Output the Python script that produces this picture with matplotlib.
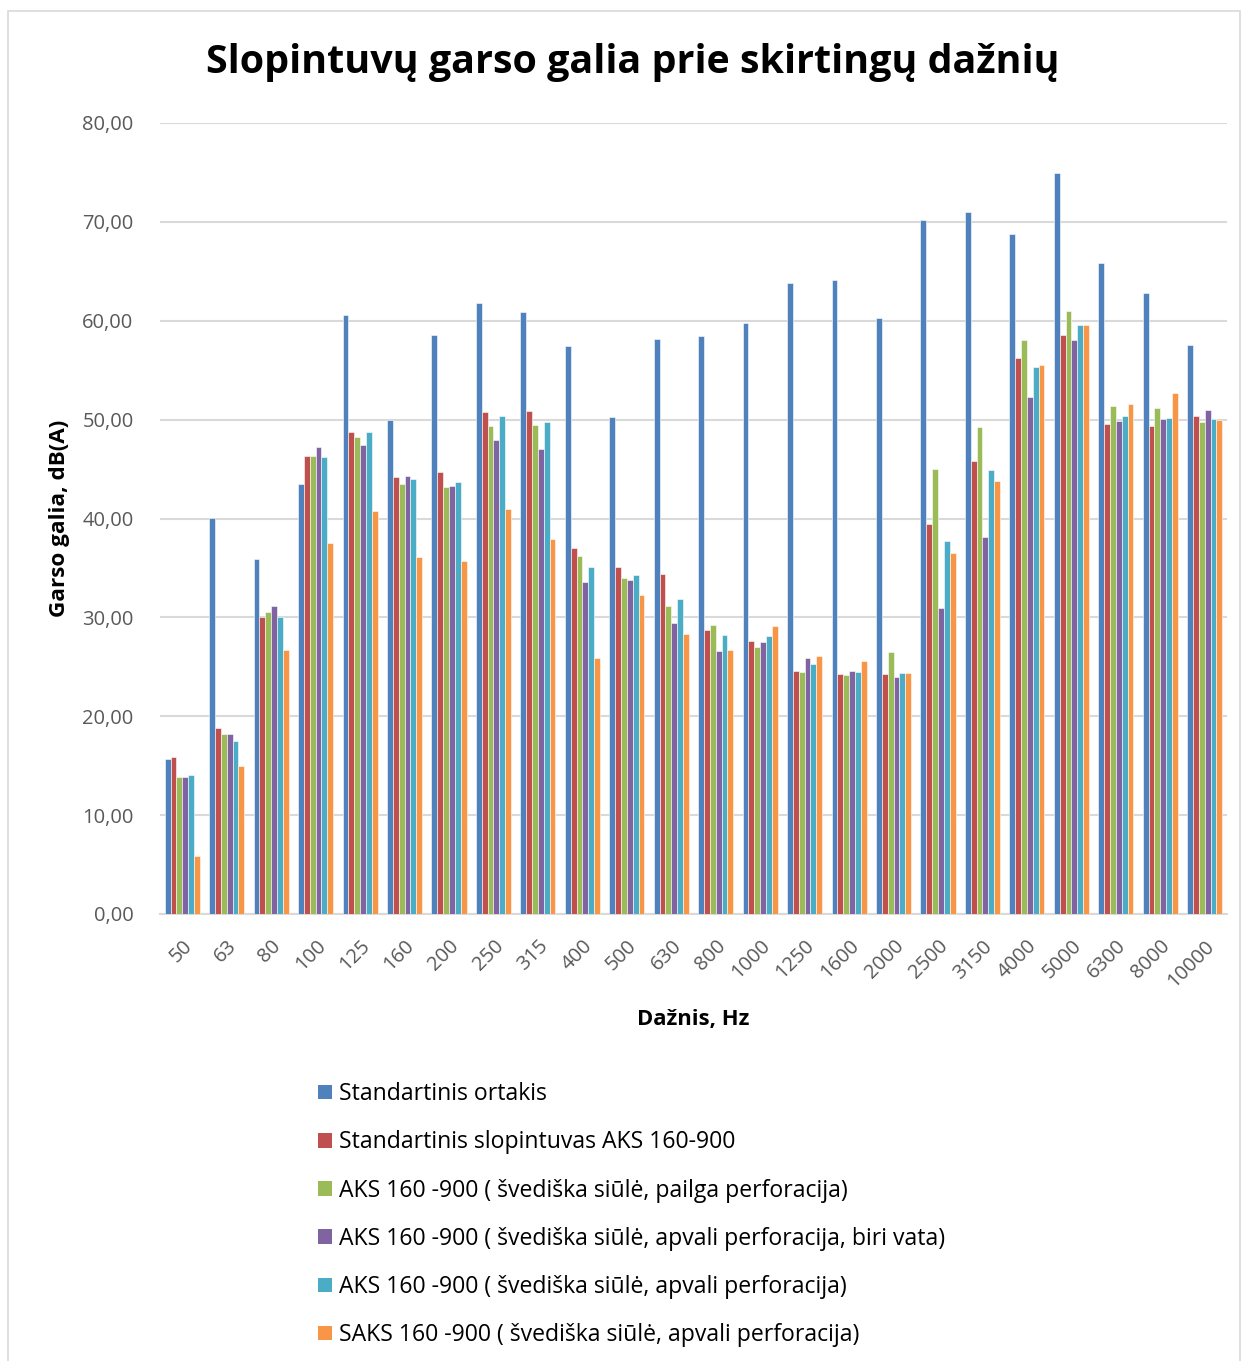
import matplotlib
matplotlib.use("Agg")
import matplotlib.pyplot as plt
import numpy as np
from matplotlib.patches import Rectangle

categories = ["50", "63", "80", "100", "125", "160", "200", "250", "315", "400", "500", "630",
              "800", "1000", "1250", "1600", "2000", "2500", "3150", "4000", "5000", "6300",
              "8000", "10000"]

standartinis_ortakis = [15.65, 40.08, 35.87, 43.49, 60.58, 49.96, 58.6, 61.76, 60.85, 57.4, 50.3, 58.2,
                        58.5, 59.74, 63.8, 64.1, 60.3, 70.15, 70.99, 68.78, 74.99, 65.89, 62.82, 57.55]
aks_standartinis = [15.85, 18.85, 30.0, 46.32, 48.78, 44.2, 44.7, 50.8, 50.87, 36.98, 35.06, 34.4,
                    28.76, 27.58, 24.6, 24.27, 24.27, 39.4, 45.85, 56.24, 58.52, 49.57, 49.32, 50.36]
aks_pailga = [13.9, 18.17, 30.5, 46.32, 48.21, 43.49, 43.2, 49.4, 49.5, 36.2, 33.98, 31.15,
              29.2, 26.97, 24.47, 24.17, 26.45, 45.05, 49.3, 58.09, 61.02, 51.34, 51.19, 49.75]
aks_apvali_vata = [13.9, 18.17, 31.1, 47.2, 47.4, 44.3, 43.25, 47.9, 47.07, 33.58, 33.78, 29.4,
                   26.6, 27.5, 25.9, 24.6, 23.97, 30.96, 38.12, 52.27, 58.01, 49.89, 50.07, 50.93]
aks_apvali = [14.06, 17.5, 30.0, 46.22, 48.72, 44.03, 43.65, 50.37, 49.76, 35.13, 34.25, 31.9,
              28.2, 28.1, 25.3, 24.5, 24.4, 37.72, 44.86, 55.31, 59.53, 50.4, 50.18, 50.07]
saks_apvali = [5.87, 15.0, 26.7, 37.52, 40.8, 36.07, 35.7, 40.96, 37.93, 25.86, 32.26, 28.35,
               26.7, 29.13, 26.1, 25.6, 24.4, 36.56, 43.78, 55.49, 59.53, 51.62, 52.67, 49.96]

series_names = [
    "Standartinis ortakis",
    "Standartinis slopintuvas AKS 160-900",
    "AKS 160 -900 ( švediška siūlė, pailga perforacija)",
    "AKS 160 -900 ( švediška siūlė, apvali perforacija, biri vata)",
    "AKS 160 -900 ( švediška siūlė, apvali perforacija)",
    "SAKS 160 -900 ( švediška siūlė, apvali perforacija)",
]
series = [standartinis_ortakis, aks_standartinis, aks_pailga, aks_apvali_vata, aks_apvali, saks_apvali]
colors = ["#4F81BD", "#C0504D", "#9BBB59", "#8064A2", "#4BACC6", "#F79646"]

plt.rcParams['font.family'] = ['Open Sans', 'DejaVu Sans']

W, H = 1246, 1361
fig = plt.figure(figsize=(W / 100, H / 100), dpi=100)

# outer border
fig.patches.append(Rectangle((8 / W, -0.05), (1240 - 8) / W, 1.05 - 11 / H,
                             transform=fig.transFigure, fill=False, edgecolor="#D9D9D9", lw=1.2))

ax = fig.add_axes([160 / W, 1 - 914 / H, (1227 - 160) / W, (914 - 123) / H])

n = len(series)
x = np.arange(len(categories))
group = 0.79
bw = group / n
for i, (vals, c, name) in enumerate(zip(series, colors, series_names)):
    offs = -group / 2 + bw * (i + 0.5)
    ax.bar(x + offs, vals, width=bw, color=c, edgecolor="white", linewidth=0.4, label=name, zorder=3)

ax.set_xlim(-0.5, len(categories) - 0.5)
ax.set_ylim(0, 80)
ax.set_yticks(np.arange(0, 81, 10))
ax.set_yticklabels([f"{v:.2f}".replace(".", ",") for v in np.arange(0, 81, 10)])
ax.yaxis.grid(True, color="#D9D9D9", linewidth=1.5, zorder=0)
ax.set_axisbelow(True)
for s in ["top", "right", "left"]:
    ax.spines[s].set_visible(False)
ax.spines["bottom"].set_color("#D9D9D9")
ax.spines["bottom"].set_linewidth(1.5)
ax.tick_params(axis="both", length=0, labelsize=14.5, labelcolor="#595959")
ax.tick_params(axis="y", pad=19)

ax.set_xticks(x)
ax.set_xticklabels(categories, rotation=45, ha="right", va="top", rotation_mode="anchor")
ax.tick_params(axis="x", pad=16)

fig.text(633 / W, 1 - 62 / H, "Slopintuvų garso galia prie skirtingų dažnių", ha="center", va="center",
         fontsize=28.4, fontweight="bold", color="black")
fig.text(60 / W, 1 - 518 / H, "Garso galia, dB(A)", ha="center", va="center", rotation=90,
         fontsize=16.2, fontweight="bold", color="black")
fig.text(693 / W, 1 - 1020 / H, "Dažnis, Hz", ha="center", va="center",
         fontsize=15.8, fontweight="bold", color="black")

handles = [Rectangle((0, 0), 1, 1, facecolor=c, edgecolor="none") for c in colors]
leg = fig.legend(handles, series_names, loc="upper left", bbox_to_anchor=(309 / W, 1 - 1073 / H),
                 frameon=False, fontsize=16.6, handlelength=0.6, handleheight=0.6, handletextpad=0.3,
                 labelspacing=1.05, borderaxespad=0)

fig.savefig("out.png", dpi=100, facecolor="white")
